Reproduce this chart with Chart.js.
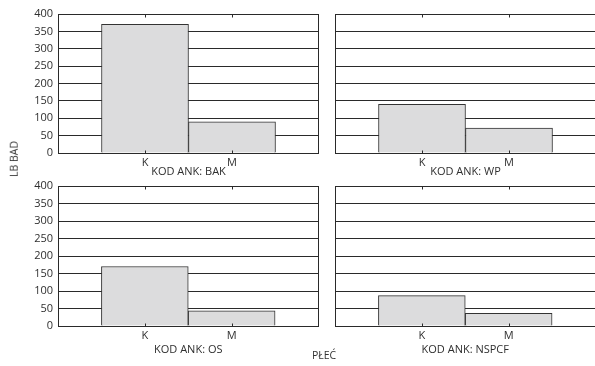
<!DOCTYPE html>
<html>
<head>
<meta charset="utf-8">
<script src="https://cdn.jsdelivr.net/npm/chart.js@4/dist/chart.umd.min.js"></script>
<style>
  html, body { margin: 0; padding: 0; width: 595px; height: 366px; overflow: hidden; background: #fff; }
  .panel { position: absolute; }
  .txt { position: absolute; font: 10.5px "Open Sans", sans-serif; color: #333; white-space: nowrap; line-height: 1; }
  #yTitle { left: 14px; top: 159px; transform: translate(-50%, -50%) rotate(-90deg); }
  #xTitle { left: 324px; top: 355px; transform: translate(-50%, -50%); }
</style>
</head>
<body>
<div class="panel" style="left:0;top:0"><canvas id="pBAK" width="322" height="180"></canvas></div>
<div class="panel" style="left:325px;top:0"><canvas id="pWP" width="274" height="180"></canvas></div>
<div class="panel" style="left:0;top:170px"><canvas id="pOS" width="322" height="196"></canvas></div>
<div class="panel" style="left:325px;top:170px"><canvas id="pNSPCF" width="274" height="196"></canvas></div>
<div class="txt" id="yTitle">LB BAD</div>
<div class="txt" id="xTitle">PŁEĆ</div>
<script>
// Counts by sex (PŁEĆ) for each questionnaire code (KOD ANK)
const categories = ['K', 'M'];
const bakCounts = [370, 90];
const wpCounts = [140, 72];
const osCounts = [170, 43];
const nspcfCounts = [87, 36];
const yMax = 400;
const yStep = 50;

const TEXT = '#2f2f2f';
const LINE = '#2a2a2a';
const FONT = { family: '"Open Sans", sans-serif', size: 11 };

// Frame around the plot plus small inward tick marks at each category
const framePlugin = {
  id: 'frame',
  afterDatasetsDraw(chart) {
    const { ctx, chartArea: a, scales: { x } } = chart;
    ctx.save();
    ctx.strokeStyle = LINE;
    ctx.lineWidth = 1;
    const l = Math.round(a.left) + 0.5, r = Math.round(a.right) - 0.5;
    const t = Math.round(a.top) + 0.5, b = Math.round(a.bottom) + 0.5;
    ctx.strokeRect(l, t, r - l, b - t);
    ctx.beginPath();
    categories.forEach(c => {
      const px = Math.round(x.getPixelForValue(x.getLabels().indexOf(c))) + 0.5;
      ctx.moveTo(px, t); ctx.lineTo(px, t + 3);
      ctx.moveTo(px, b); ctx.lineTo(px, b - 3);
    });
    ctx.stroke();
    ctx.restore();
  }
};

function panel(id, group, counts, cfg) {
  const labels = ['', ...categories, ''];
  new Chart(document.getElementById(id), {
    type: 'bar',
    data: {
      labels,
      datasets: [{
        data: [null, ...counts, null],
        backgroundColor: '#dcdcdd',
        borderColor: '#333333',
        borderWidth: 1,
        barPercentage: 1,
        categoryPercentage: 1
      }]
    },
    options: {
      responsive: false,
      animation: false,
      events: [],
      layout: { padding: { top: cfg.top, right: 2, left: 0, bottom: 0 } },
      plugins: { legend: { display: false }, tooltip: { enabled: false } },
      scales: {
        x: {
          type: 'category',
          offset: false,
          grid: { display: false, drawTicks: false },
          border: { display: false },
          ticks: { color: TEXT, font: FONT, padding: cfg.tickPad, autoSkip: false, maxRotation: 0 },
          title: { display: true, text: 'KOD ANK: ' + group, color: TEXT, font: FONT,
                   padding: { top: 0, bottom: cfg.titlePad } },
          afterFit(s) { s.height = cfg.axisH; }
        },
        y: {
          min: 0,
          max: yMax,
          grid: { color: LINE, lineWidth: 1, drawTicks: false },
          border: { display: true, color: LINE, width: 1 },
          ticks: { display: cfg.showY, stepSize: yStep, color: TEXT, font: FONT, padding: 5 },
          afterFit(s) { s.width = cfg.yW; }
        }
      }
    },
    plugins: [framePlugin]
  });
}

panel('pBAK', 'BAK', bakCounts, { top: 14, axisH: 27, tickPad: 3, titlePad: 1.5, showY: true, yW: 58 });
panel('pWP', 'WP', wpCounts, { top: 14, axisH: 27, tickPad: 3, titlePad: 1.5, showY: false, yW: 10 });
panel('pOS', 'OS', osCounts, { top: 16, axisH: 40, tickPad: 3.5, titlePad: 10, showY: true, yW: 58 });
panel('pNSPCF', 'NSPCF', nspcfCounts, { top: 16, axisH: 40, tickPad: 3.5, titlePad: 10, showY: false, yW: 10 });
</script>
</body>
</html>
